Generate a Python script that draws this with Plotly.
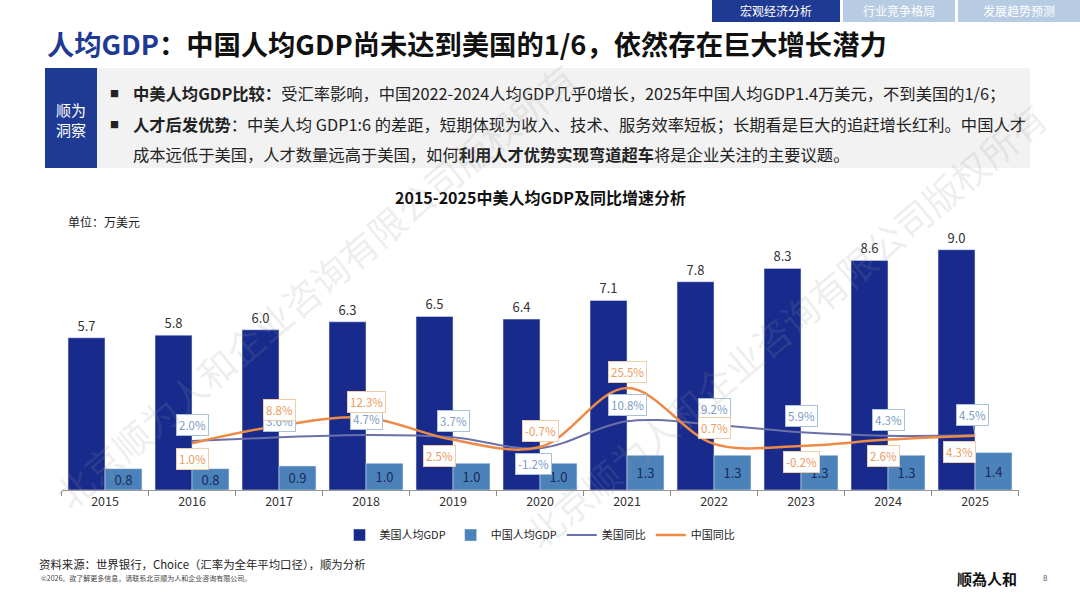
import plotly.graph_objects as go

# data
years = ['2015', '2016', '2017', '2018', '2019', '2020', '2021', '2022', '2023', '2024', '2025']
us_gdp = [5.7, 5.8, 6.0, 6.3, 6.5, 6.4, 7.1, 7.8, 8.3, 8.6, 9.0]
cn_gdp = [0.8, 0.8, 0.9, 1.0, 1.0, 1.0, 1.3, 1.3, 1.3, 1.3, 1.4]
yoy_years = years[1:]
us_yoy = [2.0, 3.6, 4.7, 3.7, -1.2, 10.8, 9.2, 5.9, 4.3, 4.5]
cn_yoy = [1.0, 8.8, 12.3, 2.5, -0.7, 25.5, 0.7, -0.2, 2.6, 4.3]

# label placement (1 = above point, -1 = below) and small horizontal nudges
us_side = [1, 1, 1, 1, -1, 1, 1, 1, 1, 1]
us_dx = [0, 0, 0, 0, -7, 0, 0, 0, 0, 0]
cn_side = [-1, 1, 1, -1, 1, 1, 1, -1, -1, -1]
cn_dx = [0, 0, 0, -14, 0, 0, 0, 0, -5, -16]

FONT = "Noto Sans CJK SC, Noto Sans, sans-serif"
NAVY = '#1f3a93'
US_BAR = '#182b8c'
CN_BAR = '#4c82ba'
US_LINE = '#6c70a8'
CN_LINE = '#ee8a46'
W, H = 1080, 608


def px(x):
    return x / W


def py(y):
    return 1 - y / H


def page_text(x, y, text, size, color='#222222', **kw):
    d = dict(xref='paper', yref='paper', x=px(x), y=py(y), text=text, showarrow=False,
             xanchor='center', yanchor='middle', font=dict(size=size, color=color))
    d.update(kw)
    return d


fig = go.Figure()
fig.add_trace(go.Bar(x=years, y=us_gdp, name='美国人均GDP', marker_color=US_BAR,
                     text=[f'{v:.1f}' for v in us_gdp], textposition='outside',
                     textfont=dict(size=13, color='#333333'), cliponaxis=False))
fig.add_trace(go.Bar(x=years, y=cn_gdp, name='中国人均GDP', marker_color=CN_BAR,
                     text=[f'{v:.1f}' for v in cn_gdp], textposition='inside',
                     insidetextanchor='middle', constraintext='none', textangle=0,
                     textfont=dict(size=13, color='#1a2a5a')))
fig.add_trace(go.Scatter(x=yoy_years, y=us_yoy, name='美国同比', yaxis='y2', mode='lines',
                         line=dict(color=US_LINE, width=2, shape='spline', smoothing=1)))
fig.add_trace(go.Scatter(x=yoy_years, y=cn_yoy, name='中国同比', yaxis='y2', mode='lines',
                         line=dict(color=CN_LINE, width=2.5, shape='spline', smoothing=1)))

ann = []
# growth labels (category axis -> annotation x is the category index)
for i, yr in enumerate(yoy_years):
    a = dict(x=years.index(yr), y=us_yoy[i], xref='x', yref='y2', text=f'{us_yoy[i]:.1f}%',
             font=dict(size=11.5, color='#7a9cc6'), bgcolor='white',
             bordercolor='#a9c2dc', borderwidth=1, borderpad=2,
             xshift=us_dx[i], yshift=16 * us_side[i], showarrow=False)
    if i == len(yoy_years) - 1:
        a.update(showarrow=True, arrowhead=0, arrowwidth=1, arrowcolor='#a9c2dc',
                 ax=-3, ay=-20, xshift=0, yshift=0)
    ann.append(a)
for i, yr in enumerate(yoy_years):
    ann.append(dict(x=years.index(yr), y=cn_yoy[i], xref='x', yref='y2', text=f'{cn_yoy[i]:.1f}%',
                    font=dict(size=11.5, color='#eb9a62'), bgcolor='white',
                    bordercolor='#f2cba8', borderwidth=1, borderpad=2,
                    xshift=cn_dx[i], yshift=16 * cn_side[i], showarrow=False))

# page text
body = '#222222'
mark = 'rgba(150,150,150,0.17)'
ann += [
    page_text(45, 43, f"<b><span style='color:{NAVY}'>人均GDP</span>：中国人均GDP尚未达到美国的1/6，依然存在巨大增长潜力</b>",
              27.3, '#111111', xanchor='left'),
    page_text(776, 11, '宏观经济分析', 12, 'white'),
    page_text(899, 11, '行业竞争格局', 12, 'white'),
    page_text(1019, 11, '发展趋势预测', 12, 'white'),
    page_text(71, 119, '顺为<br>洞察', 15, 'white'),
    page_text(114, 93, '■', 9, body),
    page_text(114, 124, '■', 9, body),
    page_text(131, 93, '<b>中美人均GDP比较：</b>受汇率影响，中国2022-2024人均GDP几乎0增长，2025年中国人均GDP1.4万美元，不到美国的1/6；',
              16.3, body, xanchor='left'),
    page_text(131, 124, '<b>人才后发优势</b>：中美人均 GDP1:6 的差距，短期体现为收入、技术、服务效率短板；长期看是巨大的追赶增长红利。中国人才',
              16.3, body, xanchor='left'),
    page_text(131, 154, '成本远低于美国，人才数量远高于美国，如何<b>利用人才优势实现弯道超车</b>将是企业关注的主要议题。',
              16.3, body, xanchor='left'),
    page_text(540, 197, '<b>2015-2025中美人均GDP及同比增速分析</b>', 16, '#111111'),
    page_text(66, 222, '单位：万美元', 12, body, xanchor='left'),
    page_text(37, 564, '资料来源：世界银行，Choice（汇率为全年平均口径），顺为分析', 11.4, body, xanchor='left'),
    page_text(39, 578, '©2026。欲了解更多信息，请联系北京顺为人和企业咨询有限公司。', 7, '#444444', xanchor='left'),
    page_text(987, 578, '<b>顺為人和</b>', 15, '#111111'),
    page_text(1045, 577, '8', 8, '#555555'),
    # watermark
    page_text(315, 285, '北京顺为人和企业咨询有限公司版权所有', 37, mark, textangle=-40),
    page_text(785, 325, '北京顺为人和企业咨询有限公司版权所有', 37, mark, textangle=-40),
]


def page_rect(x0, x1, y0, y1, color):
    return dict(type='rect', xref='paper', yref='paper', x0=px(x0), x1=px(x1),
                y0=py(y1), y1=py(y0), fillcolor=color, line_width=0, layer='below')


shapes = [
    page_rect(712, 840, 0, 22, NAVY),
    page_rect(843, 955, 0, 22, '#b7cbe2'),
    page_rect(958, 1080, 0, 22, '#b7cbe2'),
    page_rect(45, 1030, 68, 168, '#f2f2f2'),
    page_rect(45, 97, 68, 168, NAVY),
]

fig.update_layout(
    width=W, height=H, margin=dict(l=0, r=0, t=0, b=0, pad=0),
    paper_bgcolor='white', plot_bgcolor='white',
    font=dict(family=FONT, color=body),
    barmode='group', bargap=0.15, bargroupgap=0,
    xaxis=dict(domain=[px(61.5), px(1018.5)], type='category', tickson='boundaries',
               ticks='outside', ticklen=5, tickcolor='#888888', showline=True,
               linecolor='#999999', tickfont=dict(size=12.5, color='#333333'),
               automargin=False, tickangle=0),
    yaxis=dict(domain=[py(490), py(223)], range=[0, 10], visible=False),
    yaxis2=dict(overlaying='y', range=[-19.8, 98.9], visible=False),
    legend=dict(orientation='h', x=0.5, xanchor='center', y=py(535), yanchor='middle',
                font=dict(size=11, color=body), itemwidth=30),
    showlegend=True,
    annotations=ann, shapes=shapes,
)

fig.write_html("out.html", config={'displayModeBar': False},
               post_script="document.body.style.margin='0';")
